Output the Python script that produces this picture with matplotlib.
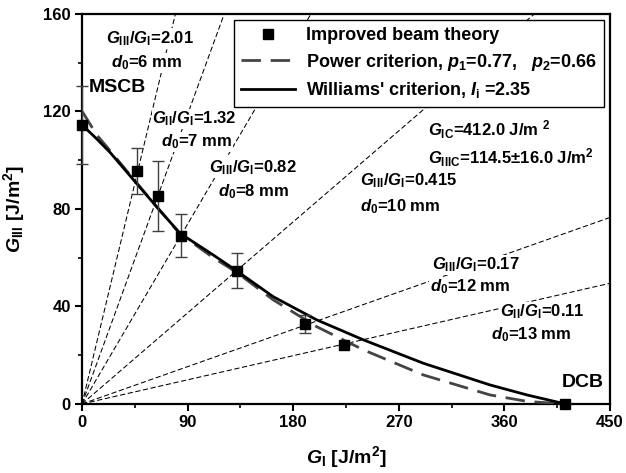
import matplotlib
matplotlib.use("Agg")
import matplotlib.pyplot as plt
from matplotlib.ticker import MultipleLocator

plt.rcParams['font.family'] = ['Liberation Sans', 'DejaVu Sans']
plt.rcParams['font.weight'] = 'bold'
plt.rcParams['axes.labelweight'] = 'bold'
plt.rcParams['mathtext.fontset'] = 'custom'
plt.rcParams['mathtext.rm'] = 'Liberation Sans:bold'
plt.rcParams['mathtext.bf'] = 'Liberation Sans:bold'
plt.rcParams['mathtext.it'] = 'Liberation Sans:bold:italic'
plt.rcParams['mathtext.default'] = 'it'

# ---- data ----
GI_exp = [0.0, 47.2, 64.5, 84.1, 131.8, 190.0, 223.0, 412.0]
GIII_exp = [114.5, 95.6, 85.3, 69.1, 54.7, 32.8, 24.2, 0.0]
GIII_err = [16.0, 9.6, 14.5, 8.8, 7.3, 3.6, 0.0, 0.0]

GI_will = [0.0, 12.0, 23.9, 45.2, 63.6, 83.5, 111.9, 131.8, 163.0, 200.0, 239.8, 290.9, 347.7, 380.0, 412.0]
GIII_will = [114.5, 109.0, 103.2, 91.2, 80.9, 70.0, 61.1, 54.6, 44.0, 34.5, 26.3, 16.7, 7.8, 3.6, 0.0]

GI_pow = [0.0, 1.1, 12.5, 21.0, 45.2, 63.6, 83.5, 111.9, 131.8, 163.0, 200.0, 239.8, 290.9, 347.7, 380.0, 412.0]
GIII_pow = [120.0, 119.3, 110.4, 105.6, 91.5, 80.9, 69.8, 60.0, 54.0, 42.7, 31.7, 22.2, 11.9, 3.7, 1.0, 0.0]

ratios = [2.01, 1.32, 0.82, 0.415, 0.17, 0.11]
ratio_names = [r'$G_{\rm III}/G_{\rm I}$=2.01', r'$G_{\rm II}/G_{\rm I}$=1.32',
               r'$G_{\rm III}/G_{\rm I}$=0.82', r'$G_{\rm III}/G_{\rm I}$=0.415',
               r'$G_{\rm III}/G_{\rm I}$=0.17', r'$G_{\rm II}/G_{\rm I}$=0.11']
d0_names = [r'$d_{\rm 0}$=6 mm', r'$d_{\rm 0}$=7 mm', r'$d_{\rm 0}$=8 mm',
            r'$d_{\rm 0}$=10 mm', r'$d_{\rm 0}$=12 mm', r'$d_{\rm 0}$=13 mm']
ratio_pos = [(58, 150), (96, 117), (146, 97), (278, 91.5), (336, 57), (392, 37.7)]
d0_pos = [(55, 140), (98, 107.5), (146, 87), (271, 81), (331, 48), (383, 28.3)]

xticks = [0, 90, 180, 270, 360, 450]
yticks = [0, 40, 80, 120, 160]

fig = plt.figure(figsize=(6.26, 4.73), dpi=100)
ax = fig.add_axes([0.131, 0.146, 0.8434, 0.8245])

for r in ratios:
    ax.axline((0, 0), slope=r, color='black', lw=0.75, dashes=(5, 2.5), zorder=1)

ax.plot(GI_pow, GIII_pow, color='#444444', lw=2.0, dashes=(7, 3.5), zorder=3,
        label=r'Power criterion, $p_{\rm 1}$=0.77,   $p_{\rm 2}$=0.66')
ax.plot(GI_will, GIII_will, color='black', lw=2.0, zorder=4,
        label=r"Williams' criterion, $I_{\rm i}$ =2.35")
ax.errorbar(GI_exp, GIII_exp, yerr=GIII_err, fmt='none', ecolor='#404040',
            elinewidth=1.0, capsize=4, capthick=1.0, zorder=5, clip_on=False)
ax.plot(GI_exp, GIII_exp, 's', color='black', ms=7.5, zorder=6, clip_on=False,
        label='Improved beam theory')

for txt, (x, y) in zip(ratio_names, ratio_pos):
    ax.text(x, y, txt, fontsize=12, ha='center', va='center', zorder=2,
            bbox=dict(facecolor='white', edgecolor='none', pad=0.5))
for txt, (x, y) in zip(d0_names, d0_pos):
    ax.text(x, y, txt, fontsize=12, ha='center', va='center', zorder=2,
            bbox=dict(facecolor='white', edgecolor='none', pad=0.5))

ax.text(295, 112.4, r'$G_{\rm IC}$=412.0 J/m $^{\rm 2}$', fontsize=12, ha='left', va='center',
        zorder=2, bbox=dict(facecolor='white', edgecolor='none', pad=0.5))
ax.text(295, 101, r'$G_{\rm IIIC}$=114.5±16.0 J/m$^{\rm 2}$', fontsize=12, ha='left', va='center',
        zorder=2, bbox=dict(facecolor='white', edgecolor='none', pad=0.5))
ax.text(5.5, 130, 'MSCB', fontsize=14, ha='left', va='center', zorder=2)
ax.text(409, 9, 'DCB', fontsize=14, ha='left', va='center', zorder=2)

ax.set_xlim(0, 450)
ax.set_ylim(0, 160)
ax.set_xticks(xticks)
ax.set_yticks(yticks)
ax.xaxis.set_minor_locator(MultipleLocator(45))
ax.yaxis.set_minor_locator(MultipleLocator(20))
ax.tick_params(which='major', direction='out', length=5, width=1.5, labelsize=12, pad=3)
ax.tick_params(which='minor', direction='out', length=3, width=1.2)
for lab in ax.get_xticklabels() + ax.get_yticklabels():
    lab.set_fontweight('bold')
for s in ax.spines.values():
    s.set_linewidth(1.6)

ax.set_xlabel(r'$G_{\rm I}$ [J/m$^{\rm 2}$]', fontsize=14, fontweight='bold', labelpad=10)
ax.set_ylabel(r'$G_{\rm III}$ [J/m$^{\rm 2}$]', fontsize=14, fontweight='bold', labelpad=12)

h, l = ax.get_legend_handles_labels()
order = [2, 0, 1]
leg = ax.legend([h[i] for i in order], [l[i] for i in order], loc='upper right',
                fontsize=13, frameon=True, fancybox=False, edgecolor='black',
                framealpha=1, handlelength=3.0, borderaxespad=0.35, labelspacing=0.4,
                borderpad=0.4, handletextpad=0.6)
leg.get_frame().set_linewidth(1.0)
leg.set_zorder(10)

fig.savefig('out.png', dpi=100)
